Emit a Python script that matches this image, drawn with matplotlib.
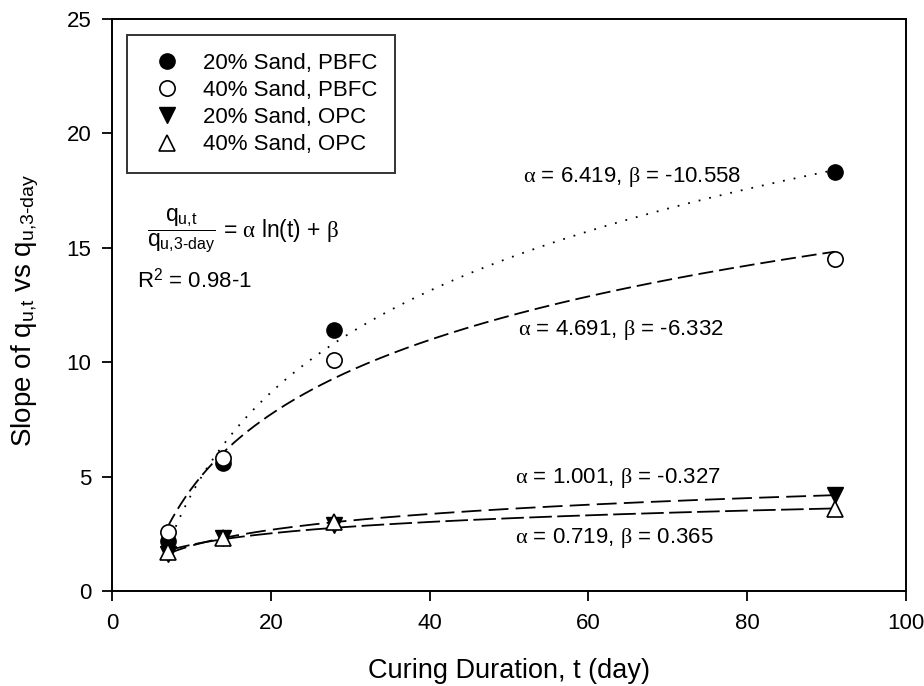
import numpy as np
import matplotlib.pyplot as plt

plt.rcParams['font.family'] = ['Liberation Sans', 'DejaVu Sans']
plt.rcParams['mathtext.fontset'] = 'custom'
plt.rcParams['mathtext.rm'] = 'Liberation Sans'
plt.rcParams['mathtext.it'] = 'Liberation Serif'
plt.rcParams['mathtext.sf'] = 'Liberation Sans'

# Curing days and normalised strength slopes
days = [7, 14, 28, 91]
sand20_pbfc = [2.2, 5.6, 11.4, 18.3]
sand40_pbfc = [2.6, 5.8, 10.1, 14.5]
sand20_opc = [1.6, 2.3, 2.9, 4.2]
sand40_opc = [1.7, 2.3, 3.0, 3.6]

# fitted parameters (alpha, beta) for q_t / q_3 = alpha ln(t) + beta
fit_20_pbfc = (6.419, -10.558)
fit_40_pbfc = (4.691, -6.332)
fit_20_opc = (1.001, -0.327)
fit_40_opc = (0.719, 0.365)

fig = plt.figure(figsize=(9.24, 6.86), dpi=100)
ax = fig.add_axes([0.1212, 0.1385, 0.8593, 0.8338])

t = np.linspace(7, 91, 300)
for (a, b), ls in [(fit_20_pbfc, (0, (1, 5))),
                   (fit_40_pbfc, (0, (8.3, 3.3))),
                   (fit_20_opc, (0, (11, 4))),
                   (fit_40_opc, (0, (12.5, 3)))]:
    ax.plot(t, a * np.log(t) + b, color='black', lw=1.3, linestyle=ls)

ms = 11
ax.plot(days, sand20_pbfc, 'o', color='black', ms=ms, mec='black', label='20% Sand, PBFC')
ax.plot(days, sand40_pbfc, 'o', color='white', ms=ms, mec='black', mew=1.2, label='40% Sand, PBFC')
ax.plot(days, sand20_opc, 'v', color='black', ms=ms, mec='black', label='20% Sand, OPC')
ax.plot(days, sand40_opc, '^', color='white', ms=ms, mec='black', mew=1.2, label='40% Sand, OPC')

ax.set_xlim(0, 100)
ax.set_ylim(0, 25)
ax.set_xticks(range(0, 101, 20))
ax.set_yticks(range(0, 26, 5))
ax.tick_params(direction='out', length=7, width=1.3, labelsize=16)
ax.tick_params(axis='x', pad=9)
ax.tick_params(axis='y', pad=8)
for s in ax.spines.values():
    s.set_linewidth(1.4)

ax.set_xlabel('Curing Duration, t (day)', fontsize=19.5, labelpad=17)
ax.set_ylabel(r'Slope of q$_{\mathrm{u{,}t}}$ vs q$_{\mathrm{u{,}3\text{-}day}}$', fontsize=20)
ax.yaxis.set_label_coords(-0.09, 0.49)

leg = ax.legend(loc='upper left', bbox_to_anchor=(0.019, 0.972), fontsize=16,
                frameon=True, fancybox=False, edgecolor='black', borderpad=0.8,
                handletextpad=0.6, labelspacing=0.28, borderaxespad=0,
                handlelength=2.0)
leg.get_frame().set_linewidth(1.4)

fs = 16
ax.text(51.8, 18.1, r'$\alpha$ = 6.419, $\beta$ = -10.558', fontsize=fs, va='center')
ax.text(51.1, 11.4, r'$\alpha$ = 4.691, $\beta$ = -6.332', fontsize=fs, va='center')
ax.text(50.8, 4.94, r'$\alpha$ = 1.001, $\beta$ = -0.327', fontsize=fs, va='center')
ax.text(50.8, 2.3, r'$\alpha$ = 0.719, $\beta$ = 0.365', fontsize=fs, va='center')

ax.text(4.4, 15.75, r'$\dfrac{\mathrm{q}_{\mathrm{u{,}t}}}{\mathrm{q}_{\mathrm{u{,}3\text{-}day}}}$ = $\alpha$ ln(t) + $\beta$',
        fontsize=16.5, va='center')
ax.text(3.1, 13.6, r'R$^2$ = 0.98-1', fontsize=fs, va='center')

fig.savefig('out.png', dpi=100)
